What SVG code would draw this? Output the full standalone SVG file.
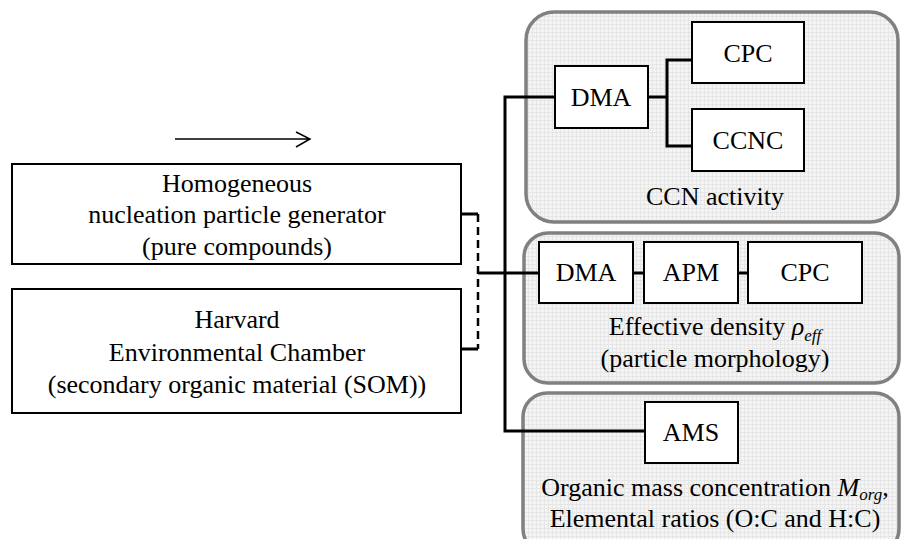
<svg xmlns="http://www.w3.org/2000/svg" width="901" height="539" viewBox="0 0 901 539">
<defs>
<pattern id="grid" width="4" height="4" patternUnits="userSpaceOnUse">
<rect width="4" height="4" fill="#f4f4f4"/>
<path d="M0 0.5H4M0.5 0V4" stroke="#e6e6e6" stroke-width="1"/>
</pattern>
</defs>
<style>
text{font-family:"Liberation Serif","Times New Roman",serif;font-size:26px;fill:#000;text-anchor:middle}
.grp{fill:url(#grid);stroke:#808080;stroke-width:3.5}
.box{fill:#fff;stroke:#000;stroke-width:2}
.conn{fill:none;stroke:#000;stroke-width:3}
.dash{fill:none;stroke:#000;stroke-width:2.5;stroke-dasharray:8,5}
.it{font-style:italic}
.sub{font-style:italic;font-size:17px}
</style>
<g id="group-ccn"><rect class="grp" x="526" y="12" width="372" height="210" rx="28"/>
<text x="715" y="205">CCN activity</text></g>
<g id="group-density"><rect class="grp" x="524" y="233" width="375" height="150" rx="24"/>
<text x="715" y="335">Effective density <tspan class="it">ρ</tspan><tspan class="sub" dy="6">eff</tspan></text>
<text x="715" y="367">(particle morphology)</text></g>
<g id="group-ams"><rect class="grp" x="523" y="393" width="376" height="160" rx="24"/>
<text x="715" y="496">Organic mass concentration <tspan class="it">M</tspan><tspan class="sub" dy="4">org</tspan><tspan dy="-4">,</tspan></text>
<text x="715" y="527">Elemental ratios (O:C and H:C)</text></g>
<g id="connectors">
<path class="conn" d="M461 214H478M461 349H478"/>
<path class="dash" d="M478 214V349"/>
<path class="conn" d="M478 273H539"/>
<path class="conn" d="M555 97H505V431H645"/>
<path class="conn" d="M648 97H667M692 60H667V146H692"/>
<path class="conn" d="M633 273H644M738 273H748"/>
<path fill="none" stroke="#000" stroke-width="1.5" d="M175 139H310M296 132L310 139L296 147"/>
</g>
<g id="homogeneous"><rect class="box" x="12" y="164" width="449" height="100"/>
<text x="237" y="192">Homogeneous</text><text x="237" y="223">nucleation particle generator</text><text x="237" y="255">(pure compounds)</text></g>
<g id="harvard"><rect class="box" x="12" y="289" width="449" height="124"/>
<text x="237" y="328">Harvard</text><text x="237" y="361">Environmental Chamber</text><text x="237" y="393">(secondary organic material (SOM))</text></g>
<g id="dma1"><rect class="box" x="555" y="66" width="93" height="62"/><text x="601" y="106">DMA</text></g>
<g id="cpc1"><rect class="box" x="692" y="22" width="112" height="61"/><text x="748" y="62">CPC</text></g>
<g id="ccnc"><rect class="box" x="692" y="109" width="112" height="62"/><text x="748" y="149">CCNC</text></g>
<g id="dma2"><rect class="box" x="539" y="242" width="94" height="61"/><text x="586" y="281">DMA</text></g>
<g id="apm"><rect class="box" x="644" y="242" width="94" height="61"/><text x="691" y="281">APM</text></g>
<g id="cpc2"><rect class="box" x="748" y="242" width="114" height="61"/><text x="805" y="281">CPC</text></g>
<g id="ams"><rect class="box" x="645" y="402" width="93" height="61"/><text x="691" y="441">AMS</text></g>
</svg>
